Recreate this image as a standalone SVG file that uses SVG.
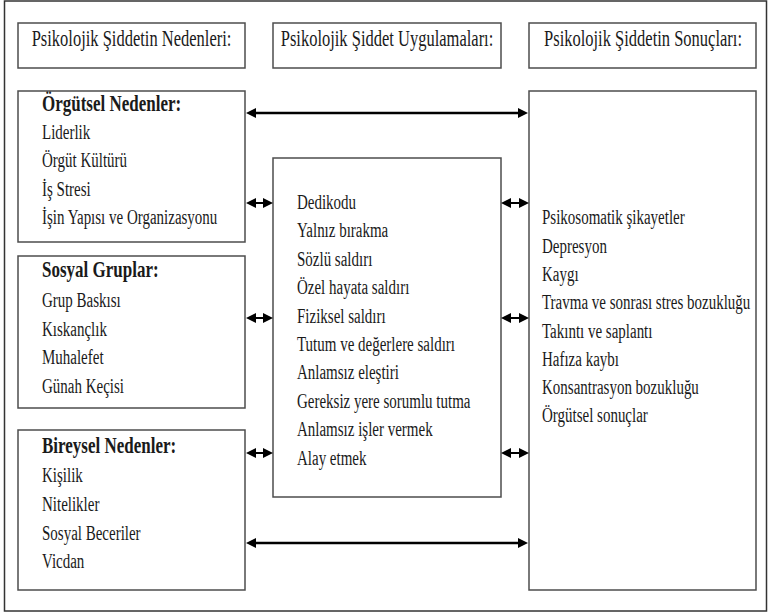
<svg xmlns="http://www.w3.org/2000/svg" width="770" height="614" viewBox="0 0 770 614">
<style>
.box{fill:#fff;stroke:#4d4d4d;stroke-width:1.5}
.frame{fill:#fff;stroke:#333;stroke-width:1.5}
text{font-family:"Liberation Serif","Times New Roman",serif;fill:#1a1a1a}
.hd{font-size:16.5px;text-anchor:middle}
.it{font-size:15px}
.tt{font-size:17px;font-weight:bold}
.arr{stroke:#000;stroke-width:2.5;fill:none;marker-start:url(#ah);marker-end:url(#ah)}
.sarr{stroke:#000;stroke-width:2;fill:none;marker-start:url(#sh);marker-end:url(#sh)}
</style>
<defs>
<marker id="ah" viewBox="0 0 10 10" refX="3" refY="5" markerWidth="10" markerHeight="10" markerUnits="userSpaceOnUse" orient="auto-start-reverse"><path d="M0,0 L10,5 L0,10 z" fill="#000"/></marker>
<marker id="sh" viewBox="0 0 10 10" refX="3" refY="5" markerWidth="10" markerHeight="10" markerUnits="userSpaceOnUse" orient="auto-start-reverse"><path d="M0,0 L10,5 L0,10 z" fill="#000"/></marker>
</defs>
<rect class="frame" x="4.5" y="1" width="762" height="610"/>

<g id="h1"><rect class="box" x="18" y="23" width="227" height="45"/>
<text class="hd" transform="matrix(1 0 0 1.35 131.5 46)">Psikolojik Şiddetin Nedenleri:</text></g>
<g id="h2"><rect class="box" x="273" y="23" width="228" height="45"/>
<text class="hd" transform="matrix(1 0 0 1.35 387 46)">Psikolojik Şiddet Uygulamaları:</text></g>
<g id="h3"><rect class="box" x="529" y="23" width="227" height="45"/>
<text class="hd" transform="matrix(1 0 0 1.35 643 46)">Psikolojik Şiddetin Sonuçları:</text></g>

<g id="orgutsel"><rect class="box" x="18" y="91" width="227" height="151"/>
<text class="tt" transform="matrix(1 0 0 1.35 42 111)">Örgütsel Nedenler:</text>
<text class="it" transform="matrix(1 0 0 1.35 42 139)">Liderlik</text>
<text class="it" transform="matrix(1 0 0 1.35 42 167)">Örgüt Kültürü</text>
<text class="it" transform="matrix(1 0 0 1.35 42 196)">İş Stresi</text>
<text class="it" transform="matrix(1 0 0 1.35 42 224)">İşin Yapısı ve Organizasyonu</text></g>

<g id="sosyal"><rect class="box" x="18" y="256" width="227" height="152"/>
<text class="tt" transform="matrix(1 0 0 1.35 42 277)">Sosyal Gruplar:</text>
<text class="it" transform="matrix(1 0 0 1.35 42 307)">Grup Baskısı</text>
<text class="it" transform="matrix(1 0 0 1.35 42 336)">Kıskançlık</text>
<text class="it" transform="matrix(1 0 0 1.35 42 364)">Muhalefet</text>
<text class="it" transform="matrix(1 0 0 1.35 42 393)">Günah Keçisi</text></g>

<g id="bireysel"><rect class="box" x="18" y="430" width="227" height="160"/>
<text class="tt" transform="matrix(1 0 0 1.35 42 453)">Bireysel Nedenler:</text>
<text class="it" transform="matrix(1 0 0 1.35 42 482)">Kişilik</text>
<text class="it" transform="matrix(1 0 0 1.35 42 511)">Nitelikler</text>
<text class="it" transform="matrix(1 0 0 1.35 42 540)">Sosyal Beceriler</text>
<text class="it" transform="matrix(1 0 0 1.35 42 568)">Vicdan</text></g>

<g id="uygulamalar"><rect class="box" x="273" y="158" width="228" height="339"/>
<text class="it" transform="matrix(1 0 0 1.35 297 209)">Dedikodu</text>
<text class="it" transform="matrix(1 0 0 1.35 297 237)">Yalnız bırakma</text>
<text class="it" transform="matrix(1 0 0 1.35 297 266)">Sözlü saldırı</text>
<text class="it" transform="matrix(1 0 0 1.35 297 294)">Özel hayata saldırı</text>
<text class="it" transform="matrix(1 0 0 1.35 297 323)">Fiziksel saldırı</text>
<text class="it" transform="matrix(1 0 0 1.35 297 351)">Tutum ve değerlere saldırı</text>
<text class="it" transform="matrix(1 0 0 1.35 297 379)">Anlamsız eleştiri</text>
<text class="it" transform="matrix(1 0 0 1.35 297 408)">Gereksiz yere sorumlu tutma</text>
<text class="it" transform="matrix(1 0 0 1.35 297 436)">Anlamsız işler vermek</text>
<text class="it" transform="matrix(1 0 0 1.35 297 465)">Alay etmek</text></g>

<g id="sonuclar"><rect class="box" x="529" y="91" width="227" height="499"/>
<text class="it" transform="matrix(1 0 0 1.35 542 224)">Psikosomatik şikayetler</text>
<text class="it" transform="matrix(1 0 0 1.35 542 253)">Depresyon</text>
<text class="it" transform="matrix(1 0 0 1.35 542 281)">Kaygı</text>
<text class="it" transform="matrix(1 0 0 1.35 542 309)">Travma ve sonrası stres bozukluğu</text>
<text class="it" transform="matrix(1 0 0 1.35 542 338)">Takıntı ve saplantı</text>
<text class="it" transform="matrix(1 0 0 1.35 542 366)">Hafıza kaybı</text>
<text class="it" transform="matrix(1 0 0 1.35 542 394)">Konsantrasyon bozukluğu</text>
<text class="it" transform="matrix(1 0 0 1.35 542 422)">Örgütsel sonuçlar</text></g>

<g id="connectors">
<path class="arr" d="M253,113 H521"/>
<path class="arr" d="M253,543 H521"/>
<path class="sarr" d="M253,203 H266"/>
<path class="sarr" d="M253,318 H266"/>
<path class="sarr" d="M253,453 H266"/>
<path class="sarr" d="M508,203 H522"/>
<path class="sarr" d="M508,318 H522"/>
<path class="sarr" d="M508,453 H522"/>
</g>
</svg>
